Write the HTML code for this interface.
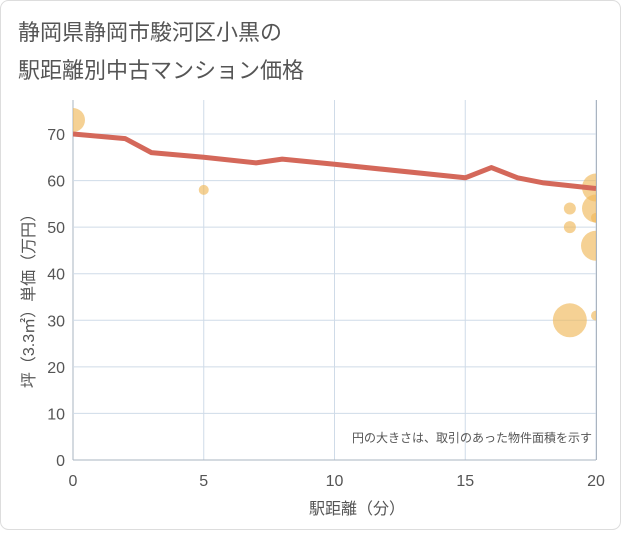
<!DOCTYPE html>
<html><head><meta charset="utf-8"><style>
body{margin:0;width:621px;height:530px;background:#fff;font-family:"Liberation Sans","Noto Sans CJK JP",sans-serif;}
svg text{font-family:"Liberation Sans","Noto Sans CJK JP",sans-serif;}
</style></head><body>
<svg id="c" width="621" height="530">
<rect x="0.5" y="0.5" width="620" height="529" rx="8" fill="#fff" stroke="#ddd"/>
<text x="18" y="40" font-size="22" fill="#555">静岡県静岡市駿河区小黒の</text>
<text x="18" y="78" font-size="22" fill="#555">駅距離別中古マンション価格</text>
<defs><clipPath id="cp"><rect x="73" y="100" width="523" height="360"/></clipPath></defs>
<g id="grid"></g>
<g id="bubbles" clip-path="url(#cp)"></g>
<g id="line" clip-path="url(#cp)"></g>
<g id="axes"></g>
<text x="592" y="442" font-size="12" fill="#555" text-anchor="end">円の大きさは、取引のあった物件面積を示す</text>
<text x="357" y="514" font-size="16" fill="#555" text-anchor="middle">駅距離（分）</text>
<text transform="translate(34,297) rotate(-90)" font-size="16" fill="#555" text-anchor="middle">坪（3.3㎡）単価（万円）</text>
</svg>
<script>
const xTicks=[0,5,10,15,20];
const yTicks=[0,10,20,30,40,50,60,70];
const lineX=[0,2,3,5,7,8,10,15,16,17,18,20];
const lineY=[70,69,66,65,63.8,64.6,63.5,60.6,62.8,60.6,59.5,58.3];
const bubX=[0,5,19,19,19,20,20,20,20,20];
const bubY=[73,58,54,50,30,58.5,54,52,46,31];
const bubR=[12,5,6,6,17,14,14,5,15,5];
const NS='http://www.w3.org/2000/svg';
const sx=v=>73+v*(596-73)/20;
const sy=v=>460-v*(460-134)/70;
function mk(t,a,p){const e=document.createElementNS(NS,t);for(const k in a)e.setAttribute(k,a[k]);p.appendChild(e);return e;}
const grid=document.getElementById('grid'),axes=document.getElementById('axes');
xTicks.forEach(v=>{
 const l=mk('line',{x1:sx(v),x2:sx(v),y1:100,y2:460,stroke:v===0?'#aab4c0':'#cfdbe8'},grid);
 
 
 const t=mk('text',{x:sx(v),y:486,'font-size':16,fill:'#555','text-anchor':'middle'},axes);t.textContent=v;
 
 
});
yTicks.forEach(v=>{
 const l=mk('line',{x1:73,x2:596,y1:sy(v),y2:sy(v),stroke:v===0?'#aab4c0':'#cfdbe8'},grid);
 
 
 const t=mk('text',{x:65,y:sy(v)+6,'font-size':16,fill:'#555','text-anchor':'end'},axes);t.textContent=v;
 
 
});
const b=document.getElementById('bubbles');
bubX.forEach((x,i)=>{
 const c=mk('circle',{cx:sx(x),cy:sy(bubY[i]),r:bubR[i],fill:'#f0b85a','fill-opacity':0.65},b);
 
 
});
const p=mk('polyline',{points:lineX.map((x,i)=>sx(x)+','+sy(lineY[i])).join(' '),fill:'none',stroke:'#d4685a','stroke-width':5,'stroke-linejoin':'round'},document.getElementById('line'));


const rl=mk('line',{x1:596.5,x2:596.5,y1:100,y2:460,stroke:'#aab4c0'},axes);


</script>
</body></html>
